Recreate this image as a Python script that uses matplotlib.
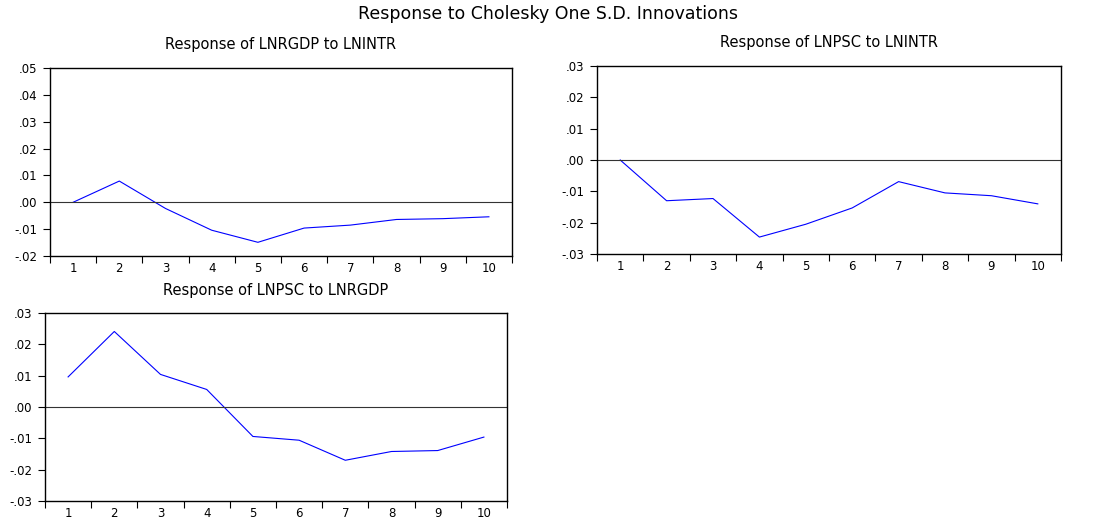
import matplotlib
matplotlib.use('Agg')
import matplotlib.pyplot as plt
from matplotlib.ticker import FuncFormatter

plt.rcParams['font.family'] = ['DejaVu Sans']

# periods after shock
periods = [1, 2, 3, 4, 5, 6, 7, 8, 9, 10]

# Response of LNRGDP to LNINTR
rgdp_to_intr = [0.0, 0.0079, -0.0023, -0.0104, -0.0149, -0.0096, -0.0085, -0.0064, -0.0061, -0.0054]
# Response of LNPSC to LNINTR
psc_to_intr = [0.0, -0.0130, -0.0123, -0.0246, -0.0205, -0.0153, -0.0069, -0.0105, -0.0114, -0.0140]
# Response of LNPSC to LNRGDP
psc_to_rgdp = [0.0096, 0.0241, 0.0104, 0.0056, -0.0094, -0.0106, -0.0170, -0.0142, -0.0139, -0.0096]

titles = ["Response of LNRGDP to LNINTR",
          "Response of LNPSC to LNINTR",
          "Response of LNPSC to LNRGDP"]
yticks_1 = [-0.02, -0.01, 0.00, 0.01, 0.02, 0.03, 0.04, 0.05]
yticks_2 = [-0.03, -0.02, -0.01, 0.00, 0.01, 0.02, 0.03]


def fmt(v, pos):
    # EViews style: .01, -.02, .00
    if abs(v) < 1e-9:
        return ".00"
    return ("%.2f" % v).replace("0.", ".")


W, H = 1096, 520
fig = plt.figure(figsize=(W / 100, H / 100), dpi=100)


def px_axes(left, top, right, bottom):
    return fig.add_axes([left / W, 1 - bottom / H, (right - left) / W, (bottom - top) / H])


def draw(ax, y, yticks, title, cx, ty):
    ax.plot(periods, y, color='#0000ff', linewidth=0.8)
    ax.axhline(0, color='#333333', linewidth=0.8)
    ax.set_xlim(0.5, len(periods) + 0.5)
    ax.set_ylim(yticks[0], yticks[-1])
    ax.set_yticks(yticks)
    ax.yaxis.set_major_formatter(FuncFormatter(fmt))
    # tick marks between periods, labels centred on the periods
    ax.set_xticks([p - 0.5 for p in periods] + [periods[-1] + 0.5])
    ax.set_xticklabels([])
    ax.set_xticks(periods, minor=True)
    ax.set_xticklabels([str(p) for p in periods], minor=True)
    ax.tick_params(axis='x', which='major', direction='out', length=5, width=0.8)
    ax.tick_params(axis='x', which='minor', length=0, pad=4, labelsize=8.5)
    ax.tick_params(axis='y', direction='out', length=5, width=0.8, pad=4, labelsize=8.5)
    for s in ax.spines.values():
        s.set_linewidth(1.0)
        s.set_color('black')
    fig.text(cx / W, 1 - ty / H, title, ha='center', va='center', fontsize=10.5)


ax1 = px_axes(50, 68, 512, 256)
draw(ax1, rgdp_to_intr, yticks_1, titles[0], 281, 45)

ax2 = px_axes(597, 66, 1061, 254)
draw(ax2, psc_to_intr, yticks_2, titles[1], 829, 43)

ax3 = px_axes(45, 313, 507, 501)
draw(ax3, psc_to_rgdp, yticks_2, titles[2], 276, 290)

fig.text(548 / W, 1 - 14 / H, "Response to Cholesky One S.D. Innovations",
         ha='center', va='center', fontsize=12.5)

fig.savefig('out.png', dpi=100)
